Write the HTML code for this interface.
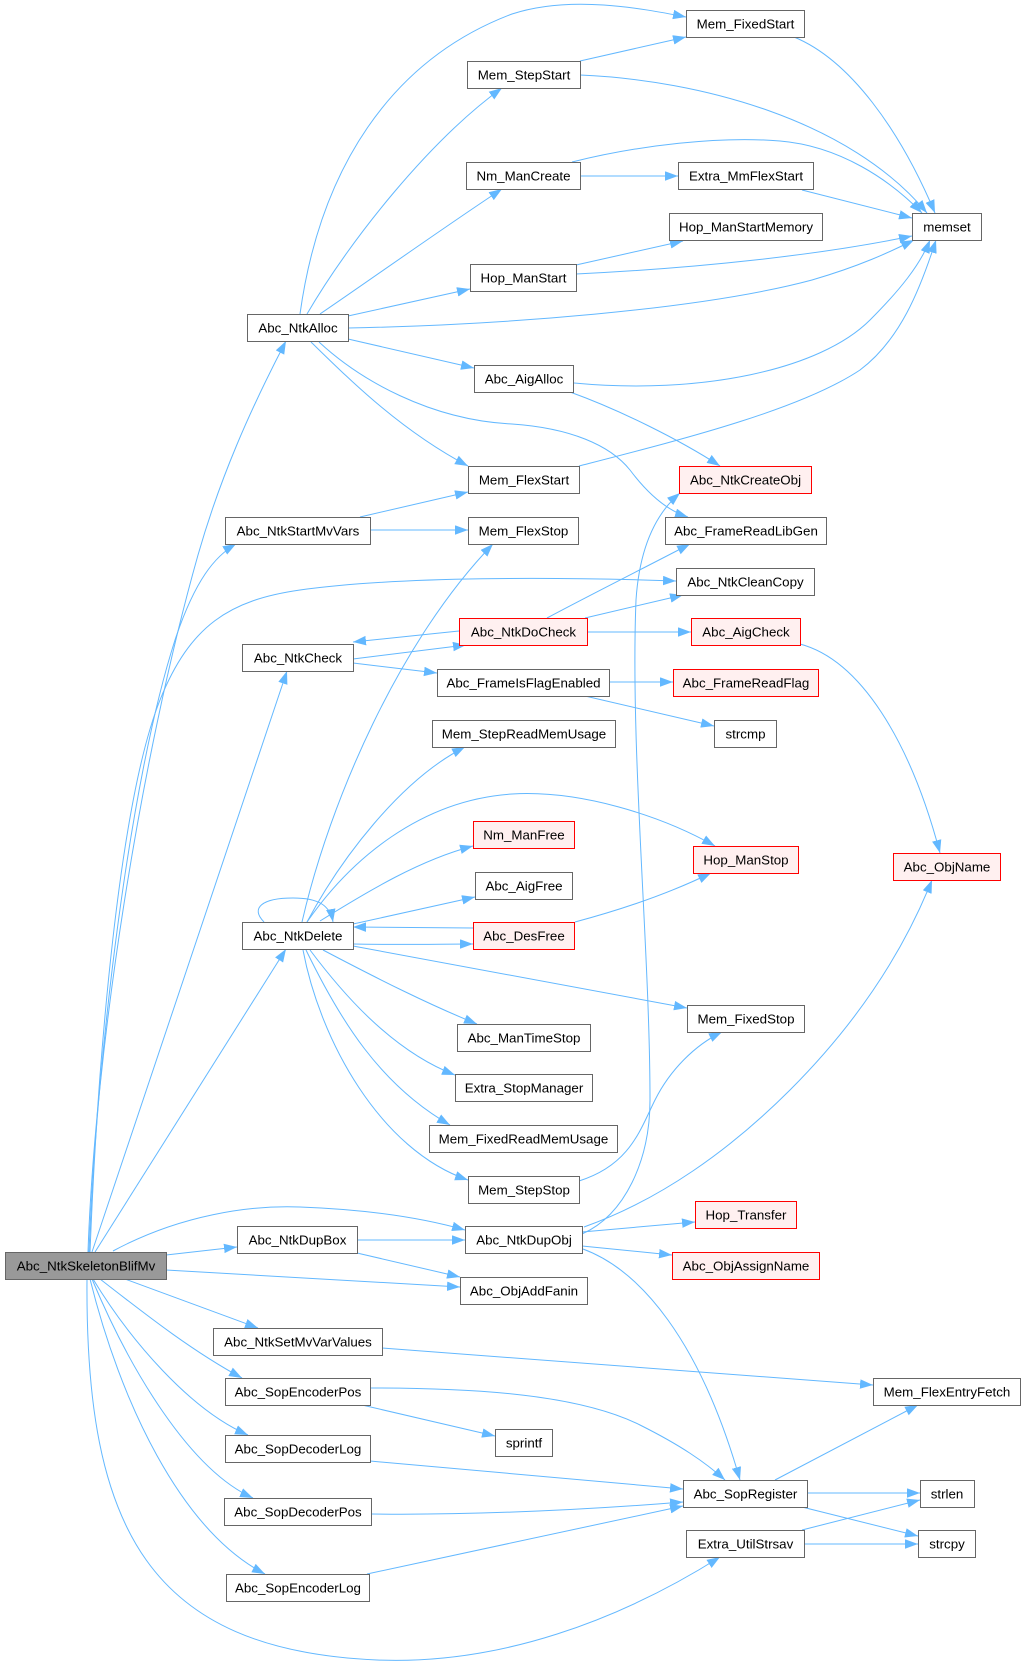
<!DOCTYPE html>
<html><head><meta charset="utf-8"><style>
html,body{margin:0;padding:0;background:#fff;}
svg{display:block;}
text{font-family:"Liberation Sans",Arial,sans-serif;font-size:13.33px;text-anchor:middle;fill:#000;}
.e{fill:none;stroke:#63b8ff;stroke-width:1;marker-end:url(#a);}
.n{fill:#fff;stroke:#666;stroke-width:1;}
.r{fill:#fff0f0;stroke:#ff0000;stroke-width:1;}
.g{fill:#999;stroke:#666;stroke-width:1;}
</style></head><body>
<svg width="1025" height="1666" viewBox="0 0 1025 1666" xmlns="http://www.w3.org/2000/svg">
<defs><marker id="a" markerWidth="13" markerHeight="10" refX="13" refY="4.75" orient="auto" markerUnits="userSpaceOnUse"><path d="M0,0 L13,4.75 L0,9.5 z" fill="#63b8ff"/></marker></defs>
<g>
<path class="e" d="M88,1252 C95,1050 140,760 198,555 C220,478 250,410 286,341"/>
<path class="e" d="M89,1252 C97,1050 130,780 175,640 C195,580 215,556 236,544"/>
<path class="e" d="M90,1252 C98,1050 120,800 160,700 C190,625 230,600 300,590 C400,576 560,577 676,581"/>
<path class="e" d="M92,1252 L287,671"/>
<path class="e" d="M95,1252 L286,949"/>
<path class="e" d="M113,1251 C180,1215 250,1205 300,1207 C380,1210 430,1220 465,1230"/>
<path class="e" d="M166,1255 L237,1247"/>
<path class="e" d="M166,1270 L460,1287"/>
<path class="e" d="M125,1279 L258,1328"/>
<path class="e" d="M100,1279 C140,1310 190,1350 242,1378"/>
<path class="e" d="M93,1279 C130,1340 190,1410 248,1435"/>
<path class="e" d="M92,1279 C130,1370 190,1470 253,1498"/>
<path class="e" d="M90,1279 C120,1400 180,1530 265,1574"/>
<path class="e" d="M87,1279 C85,1530 150,1650 377,1660 C500,1665 620,1620 720,1557"/>
<path class="e" d="M300,314 C320,170 390,60 512,14 C570,-5 640,8 686,17"/>
<path class="e" d="M307,314 C350,240 430,140 502,88"/>
<path class="e" d="M320,314 C370,280 440,230 502,189"/>
<path class="e" d="M348,316 L470,289"/>
<path class="e" d="M348,328 C500,325 700,310 812,280 C860,266 890,252 914,240"/>
<path class="e" d="M348,339 L474,368"/>
<path class="e" d="M311,342 C350,380 400,430 468,466"/>
<path class="e" d="M319,342 C360,380 430,420 512,424 C570,428 610,445 630,470 C645,490 665,510 688,517"/>
<path class="e" d="M580,61 L686,37"/>
<path class="e" d="M580,75 C700,80 850,120 927,213"/>
<path class="e" d="M794,37 C850,60 900,130 935,213"/>
<path class="e" d="M580,176 L678,176"/>
<path class="e" d="M572,162 C640,145 720,136 780,141 C840,146 890,180 922,213"/>
<path class="e" d="M802,190 L912,218"/>
<path class="e" d="M576,265 L683,241"/>
<path class="e" d="M576,274 C700,268 820,255 912,236"/>
<path class="e" d="M574,383 C700,395 820,370 870,320 C900,290 920,265 930,240"/>
<path class="e" d="M570,392 C620,410 680,440 720,466"/>
<path class="e" d="M579,466 C680,440 800,410 860,370 C900,340 920,290 936,240"/>
<path class="e" d="M360,517 L468,492"/>
<path class="e" d="M370,530 L468,530"/>
<path class="e" d="M302,922 C330,800 400,640 493,544"/>
<path class="e" d="M353,659 L466,645"/>
<path class="e" d="M353,663 L437,673"/>
<path class="e" d="M459,631 L353,642"/>
<path class="e" d="M547,618 C590,595 640,570 690,544"/>
<path class="e" d="M585,618 L683,595"/>
<path class="e" d="M587,632 L691,632"/>
<path class="e" d="M800,644 C860,660 910,740 940,853"/>
<path class="e" d="M609,682 L673,682"/>
<path class="e" d="M585,696 L714,726"/>
<path class="e" d="M264,922 C250,908 262,898 293,898 C318,898 330,905 333,922"/>
<path class="e" d="M307,922 C340,860 400,780 465,747"/>
<path class="e" d="M307,922 C350,860 420,800 512,794 C580,790 660,815 715,846"/>
<path class="e" d="M320,921 C370,890 420,860 473,846"/>
<path class="e" d="M353,924 L475,897"/>
<path class="e" d="M473,928 L353,927"/>
<path class="e" d="M353,944 C400,945 440,944 473,944"/>
<path class="e" d="M353,946 L687,1008"/>
<path class="e" d="M323,950 C380,980 430,1005 477,1024"/>
<path class="e" d="M310,950 C340,990 390,1050 455,1075"/>
<path class="e" d="M306,950 C340,1020 380,1085 450,1125"/>
<path class="e" d="M303,950 C320,1040 380,1150 468,1180"/>
<path class="e" d="M575,922 C620,910 670,893 711,873"/>
<path class="e" d="M579,1181 C630,1165 640,1130 655,1100 C670,1070 695,1045 722,1032"/>
<path class="e" d="M582,1234 C625,1215 650,1160 650,1100 C650,950 630,750 636,600 C640,540 660,510 680,493"/>
<path class="e" d="M584,1227 C660,1200 730,1150 790,1090 C850,1030 900,960 932,880"/>
<path class="e" d="M582,1232 L695,1222"/>
<path class="e" d="M582,1246 L672,1255"/>
<path class="e" d="M583,1249 C640,1270 700,1340 740,1480"/>
<path class="e" d="M357,1240 L465,1240"/>
<path class="e" d="M357,1253 L460,1277"/>
<path class="e" d="M382,1348 L873,1385"/>
<path class="e" d="M370,1388 C480,1388 580,1395 640,1425 C680,1445 705,1462 725,1480"/>
<path class="e" d="M362,1405 L495,1436"/>
<path class="e" d="M370,1461 L683,1489"/>
<path class="e" d="M371,1514 C450,1515 560,1512 683,1502"/>
<path class="e" d="M367,1574 L683,1506"/>
<path class="e" d="M775,1480 L918,1405"/>
<path class="e" d="M807,1493 L920,1493"/>
<path class="e" d="M802,1507 L918,1536"/>
<path class="e" d="M802,1530 L920,1500"/>
<path class="e" d="M804,1544 L918,1544"/>
</g>
<g>
<rect class="n" x="686.5" y="10.5" width="118" height="27"/><text x="745.5" y="28.5">Mem_FixedStart</text>
<rect class="n" x="467.5" y="61.5" width="113" height="27"/><text x="524" y="79.5">Mem_StepStart</text>
<rect class="n" x="466.5" y="162.5" width="114" height="27"/><text x="523.5" y="180.5">Nm_ManCreate</text>
<rect class="n" x="678.5" y="162.5" width="135" height="27"/><text x="746" y="180.5">Extra_MmFlexStart</text>
<rect class="n" x="669.5" y="213.5" width="153" height="27"/><text x="746" y="231.5">Hop_ManStartMemory</text>
<rect class="n" x="912.5" y="213.5" width="69" height="27"/><text x="947" y="231.5">memset</text>
<rect class="n" x="470.5" y="264.5" width="106" height="27"/><text x="523.5" y="282.5">Hop_ManStart</text>
<rect class="n" x="247.5" y="314.5" width="101" height="27"/><text x="298" y="332.5">Abc_NtkAlloc</text>
<rect class="n" x="474.5" y="365.5" width="99" height="27"/><text x="524" y="383.5">Abc_AigAlloc</text>
<rect class="n" x="468.5" y="466.5" width="111" height="27"/><text x="524" y="484.5">Mem_FlexStart</text>
<rect class="r" x="679.5" y="466.5" width="132" height="27"/><text x="745.5" y="484.5">Abc_NtkCreateObj</text>
<rect class="n" x="225.5" y="517.5" width="145" height="27"/><text x="298" y="535.5">Abc_NtkStartMvVars</text>
<rect class="n" x="468.5" y="517.5" width="110" height="27"/><text x="523.5" y="535.5">Mem_FlexStop</text>
<rect class="n" x="665.5" y="517.5" width="161" height="27"/><text x="746" y="535.5">Abc_FrameReadLibGen</text>
<rect class="n" x="676.5" y="568.5" width="138" height="27"/><text x="745.5" y="586.5">Abc_NtkCleanCopy</text>
<rect class="r" x="459.5" y="618.5" width="128" height="27"/><text x="523.5" y="636.5">Abc_NtkDoCheck</text>
<rect class="r" x="691.5" y="618.5" width="109" height="27"/><text x="746" y="636.5">Abc_AigCheck</text>
<rect class="n" x="242.5" y="644.5" width="111" height="27"/><text x="298" y="662.5">Abc_NtkCheck</text>
<rect class="n" x="437.5" y="669.5" width="172" height="27"/><text x="523.5" y="687.5">Abc_FrameIsFlagEnabled</text>
<rect class="r" x="673.5" y="669.5" width="145" height="27"/><text x="746" y="687.5">Abc_FrameReadFlag</text>
<rect class="n" x="432.5" y="720.5" width="183" height="27"/><text x="524" y="738.5">Mem_StepReadMemUsage</text>
<rect class="n" x="714.5" y="720.5" width="62" height="27"/><text x="745.5" y="738.5">strcmp</text>
<rect class="r" x="473.5" y="821.5" width="101" height="27"/><text x="524" y="839.5">Nm_ManFree</text>
<rect class="r" x="693.5" y="846.5" width="105" height="27"/><text x="746" y="864.5">Hop_ManStop</text>
<rect class="r" x="893.5" y="853.5" width="107" height="27"/><text x="947" y="871.5">Abc_ObjName</text>
<rect class="n" x="475.5" y="872.5" width="97" height="27"/><text x="524" y="890.5">Abc_AigFree</text>
<rect class="n" x="242.5" y="922.5" width="111" height="27"/><text x="298" y="940.5">Abc_NtkDelete</text>
<rect class="r" x="473.5" y="922.5" width="101" height="27"/><text x="524" y="940.5">Abc_DesFree</text>
<rect class="n" x="687.5" y="1005.5" width="117" height="27"/><text x="746" y="1023.5">Mem_FixedStop</text>
<rect class="n" x="457.5" y="1024.5" width="133" height="27"/><text x="524" y="1042.5">Abc_ManTimeStop</text>
<rect class="n" x="455.5" y="1074.5" width="137" height="27"/><text x="524" y="1092.5">Extra_StopManager</text>
<rect class="n" x="429.5" y="1125.5" width="188" height="27"/><text x="523.5" y="1143.5">Mem_FixedReadMemUsage</text>
<rect class="n" x="468.5" y="1176.5" width="111" height="27"/><text x="524" y="1194.5">Mem_StepStop</text>
<rect class="r" x="695.5" y="1201.5" width="101" height="27"/><text x="746" y="1219.5">Hop_Transfer</text>
<rect class="n" x="465.5" y="1226.5" width="117" height="27"/><text x="524" y="1244.5">Abc_NtkDupObj</text>
<rect class="n" x="237.5" y="1226.5" width="120" height="27"/><text x="297.5" y="1244.5">Abc_NtkDupBox</text>
<rect class="g" x="5.5" y="1252.5" width="161" height="27"/><text x="86" y="1270.5">Abc_NtkSkeletonBlifMv</text>
<rect class="r" x="672.5" y="1252.5" width="147" height="27"/><text x="746" y="1270.5">Abc_ObjAssignName</text>
<rect class="n" x="460.5" y="1277.5" width="127" height="27"/><text x="524" y="1295.5">Abc_ObjAddFanin</text>
<rect class="n" x="213.5" y="1328.5" width="169" height="27"/><text x="298" y="1346.5">Abc_NtkSetMvVarValues</text>
<rect class="n" x="225.5" y="1378.5" width="145" height="27"/><text x="298" y="1396.5">Abc_SopEncoderPos</text>
<rect class="n" x="873.5" y="1378.5" width="147" height="27"/><text x="947" y="1396.5">Mem_FlexEntryFetch</text>
<rect class="n" x="495.5" y="1429.5" width="57" height="27"/><text x="524" y="1447.5">sprintf</text>
<rect class="n" x="225.5" y="1435.5" width="145" height="27"/><text x="298" y="1453.5">Abc_SopDecoderLog</text>
<rect class="n" x="683.5" y="1480.5" width="124" height="27"/><text x="745.5" y="1498.5">Abc_SopRegister</text>
<rect class="n" x="920.5" y="1480.5" width="54" height="27"/><text x="947" y="1498.5">strlen</text>
<rect class="n" x="224.5" y="1498.5" width="147" height="27"/><text x="298" y="1516.5">Abc_SopDecoderPos</text>
<rect class="n" x="686.5" y="1530.5" width="118" height="27"/><text x="745.5" y="1548.5">Extra_UtilStrsav</text>
<rect class="n" x="918.5" y="1530.5" width="57" height="27"/><text x="947" y="1548.5">strcpy</text>
<rect class="n" x="226.5" y="1574.5" width="143" height="27"/><text x="298" y="1592.5">Abc_SopEncoderLog</text>
</g>
</svg>
</body></html>
